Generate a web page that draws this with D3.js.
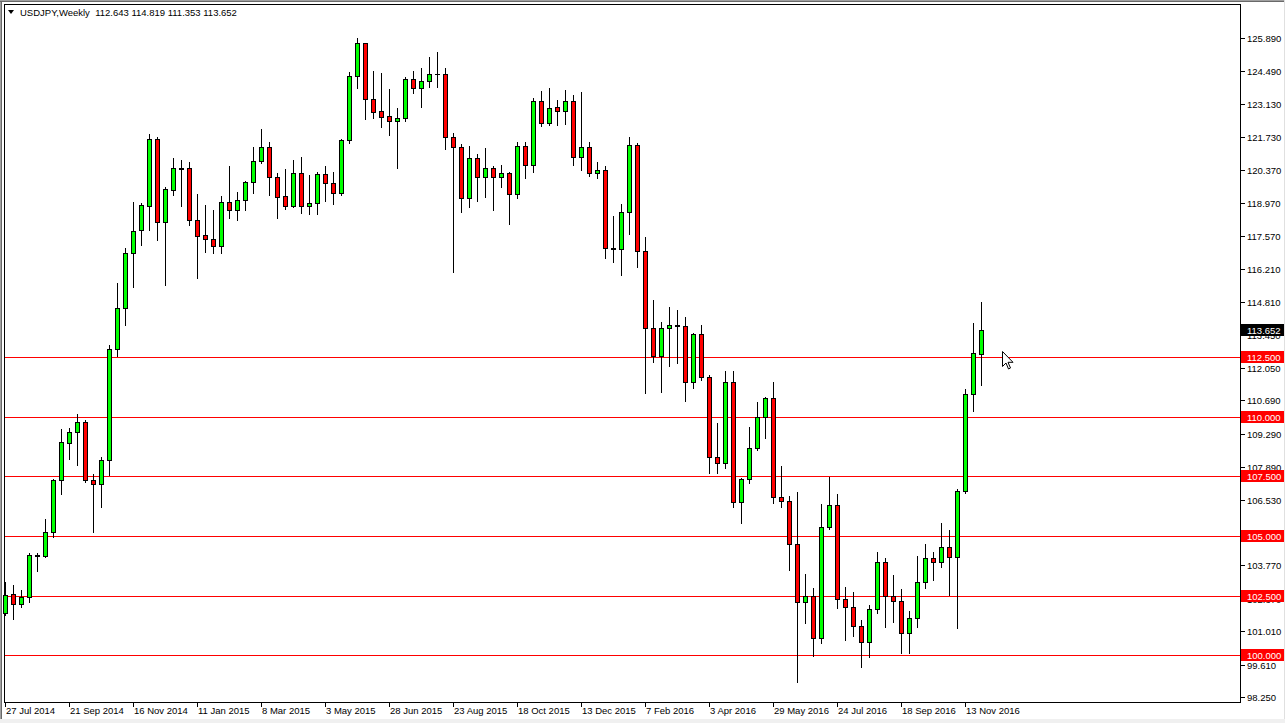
<!DOCTYPE html>
<html><head><meta charset="utf-8">
<script src="https://cdn.jsdelivr.net/npm/d3@7/dist/d3.min.js"></script>
<style>
html,body{margin:0;padding:0;background:#fff;}
svg{display:block;}
text{font-family:"Liberation Sans",Arial,sans-serif;font-size:9.5px;fill:#000;white-space:pre;}
</style></head>
<body>
<svg id="c" width="1285" height="723"></svg>
<script>
// ---- DATA (weekly USDJPY, week start 27 Jul 2014 .. 27 Nov 2016) ----
const opens = [101.76,102.56,102.14,102.45,104.20,104.16,105.18,107.35,108.91,109.38,109.80,107.35,107.17,108.19,112.83,114.55,116.88,117.84,118.86,121.65,118.18,119.52,120.42,120.42,118.26,117.63,117.46,117.18,119.00,118.68,119.09,119.84,120.74,121.33,120.05,119.26,118.86,120.21,118.86,118.96,120.18,119.82,119.38,121.61,124.30,125.67,123.32,122.83,122.62,122.42,122.53,124.16,123.78,124.09,124.38,124.40,121.75,121.31,119.17,120.84,120.05,120.42,120.05,120.21,119.33,121.36,120.55,123.23,122.31,122.98,122.84,123.23,120.91,121.31,120.24,120.35,117.07,117.04,118.58,121.40,116.97,113.71,112.55,113.71,113.85,113.82,111.45,113.47,111.68,108.30,108.05,111.45,106.44,107.38,108.68,110.00,110.78,106.65,106.48,104.65,102.22,102.48,100.71,105.39,106.30,102.35,102.04,101.24,100.54,101.93,103.92,102.48,102.29,100.92,101.55,103.06,104.07,103.92,104.55,104.13,106.89,110.94,112.643];
const highs = [103.08,102.95,102.74,104.27,104.27,105.70,107.38,109.48,109.52,110.11,109.85,107.60,108.33,113.01,115.60,117.07,119.02,118.96,121.86,121.75,119.65,120.87,120.77,120.70,119.35,118.89,118.68,119.26,120.53,119.44,119.89,121.33,122.06,121.54,120.21,120.38,120.77,120.91,120.14,120.28,120.52,120.28,121.64,124.48,125.88,125.70,124.51,124.43,123.75,122.94,124.27,124.51,124.64,125.11,125.32,124.62,121.92,121.43,121.36,121.01,121.26,120.52,120.56,120.28,121.54,121.54,123.36,123.67,123.78,123.29,123.71,123.50,123.61,121.52,120.68,120.52,118.42,118.93,121.72,121.47,117.56,114.90,113.99,114.62,114.48,114.20,113.53,113.85,111.75,109.73,111.92,111.92,107.45,109.59,110.63,110.84,111.47,107.94,106.68,106.86,103.41,102.81,106.33,107.46,106.75,102.85,102.64,101.48,102.11,104.32,104.07,103.36,102.76,101.85,104.16,104.65,104.34,105.56,105.25,106.96,111.15,113.95,114.819];
const lows = [101.70,101.51,102.01,102.25,103.55,104.11,104.97,106.76,108.23,107.98,107.28,105.18,106.23,107.56,112.55,113.85,115.46,117.21,117.84,117.42,115.53,119.30,118.84,118.05,115.84,116.93,116.88,116.88,118.35,118.26,118.68,119.40,120.63,119.30,118.33,118.72,118.80,118.56,118.51,118.50,119.07,118.93,119.30,121.47,123.78,122.48,122.52,122.14,121.82,120.42,122.40,123.60,123.01,123.82,123.82,121.22,116.09,118.60,118.81,119.07,119.23,118.68,119.63,118.08,119.17,120.03,120.28,122.21,122.25,122.24,122.28,120.56,120.35,120.10,120.00,116.65,116.51,115.95,117.67,116.30,110.99,112.31,111.05,112.13,112.25,110.66,111.20,111.54,107.66,107.63,107.84,106.21,105.53,107.24,108.61,109.10,106.37,106.23,103.57,98.90,101.36,99.99,100.53,105.28,101.97,100.64,100.82,99.52,99.94,101.76,101.20,101.41,100.08,100.08,101.20,102.81,103.16,103.71,102.53,101.15,106.80,110.26,111.353];
const closes = [102.53,102.14,102.43,104.20,104.17,105.18,107.35,108.96,109.38,109.80,107.35,107.17,108.19,112.83,114.55,116.88,117.79,118.89,121.65,118.18,119.56,120.42,120.40,118.26,117.60,117.45,117.18,119.00,118.68,119.09,119.84,120.74,121.33,120.05,119.23,118.86,120.21,118.86,118.96,120.18,119.82,119.38,121.61,124.30,125.67,123.32,122.80,122.59,122.42,122.53,124.16,123.78,124.09,124.38,124.40,121.75,121.31,119.17,120.84,120.05,120.42,120.05,120.21,119.33,121.36,120.55,123.23,122.31,122.94,122.84,123.23,120.91,121.31,120.24,120.35,117.07,117.04,118.58,121.40,116.97,113.71,112.55,113.71,113.85,113.82,111.45,113.47,111.68,108.30,108.05,111.45,106.44,107.38,108.68,110.00,110.78,106.65,106.48,104.65,102.22,102.48,100.71,105.39,106.30,102.35,102.04,101.24,100.54,101.93,103.92,102.48,102.29,100.92,101.55,103.06,104.07,103.92,104.55,104.13,106.89,110.94,112.66,113.652];
const priceTicks = [125.89,124.49,123.13,121.73,120.37,118.97,117.57,116.21,114.81,113.45,112.05,110.69,109.29,107.89,106.53,105.17,103.77,102.37,101.01,99.61,98.25];
const levels = [112.5,110.0,107.5,105.0,102.5,100.0];
const dateLabels = ["27 Jul 2014","21 Sep 2014","16 Nov 2014","11 Jan 2015","8 Mar 2015","3 May 2015","28 Jun 2015","23 Aug 2015","18 Oct 2015","13 Dec 2015","7 Feb 2016","3 Apr 2016","29 May 2016","24 Jul 2016","18 Sep 2016","13 Nov 2016"];
const dateLabelBars = [0,8,16,24,32,40,48,56,64,72,80,88,96,104,112,120];
const symbolTitle = "USDJPY,Weekly";
const lastPrice = 113.652;

// ---- LAYOUT ----
const svg = d3.select("#c");
const L = 4, T = 4, R = 1240, B = 702;
const x = d3.scaleLinear().domain([0, opens.length - 1]).range([5, 981]);
const y = d3.scaleLinear().domain([98.25, 125.89]).range([697, 38]);
const fmt = d3.format(".3f");

svg.append("rect").attr("width",1285).attr("height",723).attr("fill","#f0f0f0");
svg.append("rect").attr("x",0).attr("y",0).attr("width",1285).attr("height",719).attr("fill","#fff");
svg.append("line").attr("x1",0.5).attr("x2",0.5).attr("y1",0).attr("y2",719).attr("stroke","#a0a0a0").attr("stroke-width",1);
svg.append("line").attr("x1",1.5).attr("x2",1.5).attr("y1",0).attr("y2",719).attr("stroke","#696969").attr("stroke-width",1);
svg.append("line").attr("x1",0).attr("x2",1285).attr("y1",0.5).attr("y2",0.5).attr("stroke","#a0a0a0");
svg.append("line").attr("x1",0).attr("x2",1285).attr("y1",1.5).attr("y2",1.5).attr("stroke","#696969");
svg.append("line").attr("x1",1284.5).attr("x2",1284.5).attr("y1",0).attr("y2",719).attr("stroke","#e0e0e0");

const g = svg.append("g").attr("shape-rendering","crispEdges");

// plot frame
g.append("line").attr("x1",L+0.5).attr("x2",L+0.5).attr("y1",T).attr("y2",B+1).attr("stroke","#000");
g.append("line").attr("x1",L).attr("x2",R+1).attr("y1",T+0.5).attr("y2",T+0.5).attr("stroke","#000");
g.append("line").attr("x1",R+0.5).attr("x2",R+0.5).attr("y1",T).attr("y2",B+1).attr("stroke","#000");
g.append("line").attr("x1",L).attr("x2",R+1).attr("y1",B+0.5).attr("y2",B+0.5).attr("stroke","#000");

// level lines
g.selectAll("line.lvl").data(levels).join("line").attr("class","lvl")
  .attr("x1",L+1).attr("x2",R)
  .attr("y1",d=>Math.round(y(d))+0.5).attr("y2",d=>Math.round(y(d))+0.5)
  .attr("stroke","#ff0000").attr("stroke-width",1);

// candles
const idx = d3.range(opens.length);
const cg = g.append("g");
idx.forEach(i=>{
  const cx = Math.round(x(i));
  const yo = Math.round(y(opens[i])), yc = Math.round(y(closes[i]));
  const yh = Math.round(y(highs[i])), yl = Math.round(y(lows[i]));
  cg.append("line").attr("x1",cx+0.5).attr("x2",cx+0.5).attr("y1",yh).attr("y2",yl+1).attr("stroke","#000");
  const top = Math.min(yo,yc), bot = Math.max(yo,yc);
  if (bot - top < 1) {
    cg.append("line").attr("x1",cx-2).attr("x2",cx+3).attr("y1",top+0.5).attr("y2",top+0.5).attr("stroke","#000");
  } else {
    cg.append("rect").attr("x",cx-1.5).attr("y",top+0.5).attr("width",4).attr("height",bot-top)
      .attr("fill", closes[i] >= opens[i] ? "#00ff00" : "#ff0000")
      .attr("stroke","#000").attr("stroke-width",1);
  }
});

// price axis ticks & labels
const pa = svg.append("g");
priceTicks.forEach(p=>{
  const yy = Math.round(y(p));
  pa.append("line").attr("x1",R+1).attr("x2",R+5).attr("y1",yy+0.5).attr("y2",yy+0.5).attr("stroke","#000").attr("shape-rendering","crispEdges");
  pa.append("text").attr("x",R+7).attr("y",yy+3.5).text(fmt(p));
});

// level boxes
levels.forEach(p=>{
  const yy = Math.round(y(p));
  pa.append("rect").attr("x",R+1).attr("y",yy-6).attr("width",43).attr("height",12).attr("fill","#ff0000").attr("shape-rendering","crispEdges");
  pa.append("text").attr("x",R+7).attr("y",yy+3.5).style("fill","#fff").text(fmt(p));
});
{
  const yy = Math.round(y(lastPrice));
  pa.append("rect").attr("x",R+1).attr("y",yy-6).attr("width",43).attr("height",12).attr("fill","#000").attr("shape-rendering","crispEdges");
  pa.append("text").attr("x",R+7).attr("y",yy+3.5).style("fill","#fff").text(fmt(lastPrice));
}

// date axis
const da = svg.append("g");
dateLabels.forEach((lab,k)=>{
  const cx = Math.round(x(dateLabelBars[k]));
  da.append("line").attr("x1",cx+0.5).attr("x2",cx+0.5).attr("y1",B+1).attr("y2",B+5).attr("stroke","#000").attr("shape-rendering","crispEdges");
  da.append("text").attr("x",cx+1).attr("y",714).text(lab);
});

// title
svg.append("path").attr("d","M8,10 L14,10 L11,14 Z").attr("fill","#000");
svg.append("text").attr("x",20).attr("y",16)
  .text(symbolTitle + "  " + [opens[opens.length-1], highs[highs.length-1], lows[lows.length-1], closes[closes.length-1]].map(fmt).join(" "));

// mouse cursor
svg.append("path").attr("transform","translate(1002.5,351.5)")
  .attr("d","M0,0 L0,15 L3.5,11.5 L6,17.5 L8,16.5 L5.5,10.8 L10.5,10.8 Z")
  .attr("fill","#fff").attr("stroke","#000").attr("stroke-width",1);
</script>
</body></html>
